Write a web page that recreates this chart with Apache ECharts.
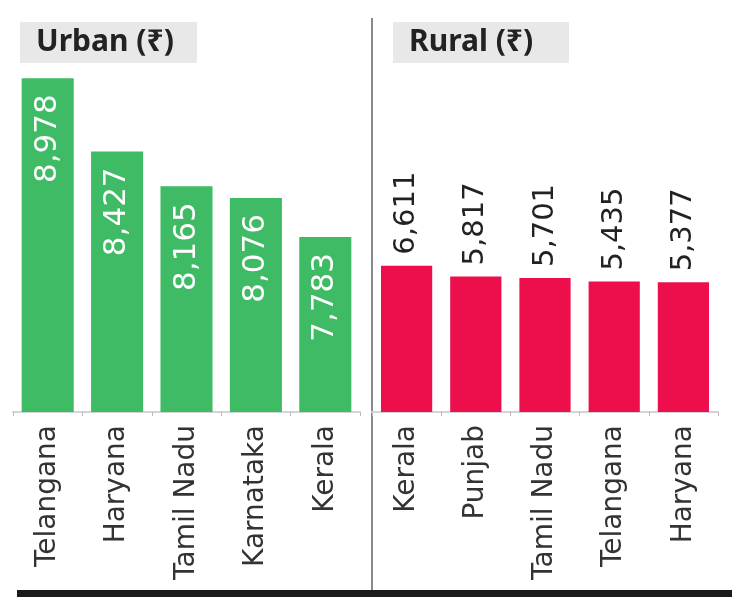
<!DOCTYPE html>
<html>
<head>
<meta charset="utf-8">
<script src="https://cdn.jsdelivr.net/npm/echarts@6/dist/echarts.min.js"></script>
<style>
html, body { margin: 0; padding: 0; background: #fff; }
#main { width: 732px; height: 597px; }
</style>
</head>
<body>
<div id="main"></div>
<script>
// 数据
var urbanStates = ['Telangana', 'Haryana', 'Tamil Nadu', 'Karnataka', 'Kerala'];
var urbanValues = [8978, 8427, 8165, 8076, 7783];
var ruralStates = ['Kerala', 'Punjab', 'Tamil Nadu', 'Telangana', 'Haryana'];
var ruralValues = [6611, 5817, 5701, 5435, 5377];

var GREEN = '#40bb65';
var RED = '#ec0f4b';
var FONT = 'DejaVu Sans';

function fmt(v) {
	return String(v).replace(/\B(?=(\d{3})+(?!\d))/g, ',');
}

var chart = echarts.init(document.getElementById('main'));

function header(x, w, text) {
	return {
		type: 'group',
		left: x,
		top: 22,
		children: [
			{ type: 'rect', shape: { x: 0, y: 0, width: w, height: 41 }, style: { fill: '#e8e8e8' } },
			{
				type: 'text', x: 16, y: 20,
				style: {
					text: text, fill: '#222', font: 'bold 30px "Noto Sans", "DejaVu Sans"',
					verticalAlign: 'middle'
				}
			}
		]
	};
}

var catAxis = function (gridIndex, data) {
	return {
		type: 'category',
		gridIndex: gridIndex,
		data: data,
		axisLine: { onZero: false, lineStyle: { color: '#d4d4d4', width: 2 } },
		axisTick: { show: true, length: 4, lineStyle: { color: '#bbb' } },
		axisLabel: { rotate: 90, fontSize: 28, fontFamily: FONT, color: '#333', margin: 13 }
	};
};

chart.setOption({
	animation: false,
	backgroundColor: '#fff',
	grid: [
		{ left: 13, width: 347, top: 70, bottom: 185 },
		{ left: 372, right: 14, top: 70, bottom: 185 }
	],
	xAxis: [catAxis(0, urbanStates), catAxis(1, ruralStates)],
	yAxis: [
		{ type: 'value', gridIndex: 0, min: 6465, max: 9040, show: false, splitLine: { show: false } },
		{ type: 'value', gridIndex: 1, min: -4219, max: 21096, startValue: -4219, show: false, splitLine: { show: false } }
	],
	series: [
		{
			type: 'bar',
			xAxisIndex: 0, yAxisIndex: 0,
			data: urbanValues,
			barWidth: '75%',
			itemStyle: { color: GREEN },
			label: {
				show: true, position: 'insideTop', rotate: 90, align: 'right', verticalAlign: 'middle',
				distance: 16, color: '#fff', fontSize: 31, fontFamily: FONT,
				formatter: function (p) { return fmt(p.value); }
			}
		},
		{
			type: 'bar',
			xAxisIndex: 1, yAxisIndex: 1,
			data: ruralValues,
			barWidth: '74%',
			itemStyle: { color: RED },
			label: {
				show: true, position: 'top', rotate: 90, align: 'left', verticalAlign: 'middle',
				distance: 11, color: '#222', fontSize: 29, fontFamily: FONT,
				formatter: function (p) { return fmt(p.value); }
			}
		}
	],
	graphic: [
		header(20, 177, 'Urban (₹)'),
		header(393, 176, 'Rural (₹)'),
		{ type: 'rect', shape: { x: 371, y: 18, width: 2, height: 572 }, style: { fill: '#8a8a8a' } },
		{ type: 'rect', shape: { x: 17, y: 590, width: 715, height: 7 }, style: { fill: '#1b1b1b' } }
	]
});
</script>
</body>
</html>
